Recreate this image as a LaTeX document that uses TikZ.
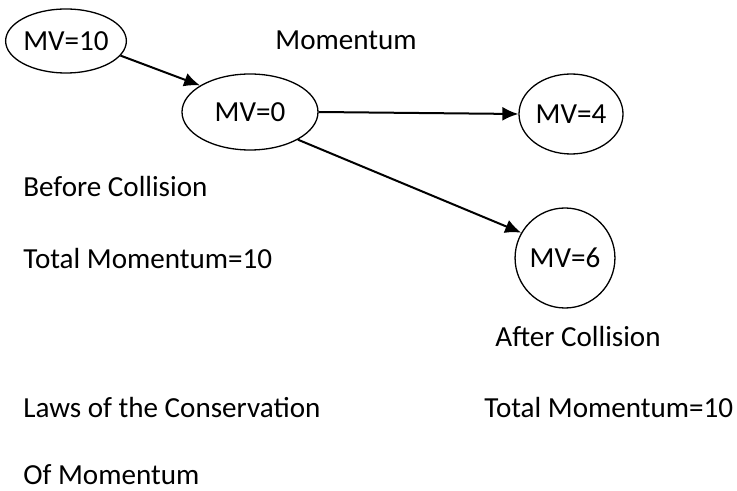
\documentclass[tikz,border=0pt]{standalone}
\usepackage{fontspec}
\setmainfont{Carlito}
\usepackage{tikz}
\usetikzlibrary{shapes.geometric, arrows.meta}

\begin{document}
\begin{tikzpicture}[x=0.5pt,y=-0.5pt,
		oval/.style={shape=ellipse,draw=black,line width=0.65pt,inner sep=0pt},
		lbl/.style={anchor=base west,inner sep=0pt},
		push/.style={-{Latex[length=8pt,width=7pt]},line width=1pt,black}]
				\fontsize{14.55}{17}\selectfont
				\useasboundingbox (0,0) rectangle (737,491);
				\node[oval,minimum width=58pt,minimum height=32pt] (mv10) at (66,41) {MV=10};
				\node[oval,minimum width=68pt,minimum height=38pt] (mv0) at (250,112) {MV=0};
				\node[oval,minimum width=52pt,minimum height=40pt] (mv4) at (571,114) {MV=4};
				\node[oval,minimum width=44pt,minimum height=50pt] (mv6) at (565,258) {MV=6};
				
				\node[lbl] (title) at (275,50) {Momentum};
				\node[lbl] (before) at (23,197) {Before Collision};
				\node[lbl] (totalA) at (23,269) {Total Momentum=10};
				\node[lbl] (after) at (495,346) {After Collision};
				\node[lbl] (laws) at (23,417) {Laws of the Conservation};
				\node[lbl] (totalB) at (484,417) {Total Momentum=10};
				\node[lbl] (lawsB) at (23,484) {Of Momentum};
				
				\path [push] (mv10.-15) edge (mv0.152);
				\path [push] (mv0.east) edge (mv4.west);
				\path [push] (mv0.-30) edge (mv6.150);
\end{tikzpicture}
\end{document}
